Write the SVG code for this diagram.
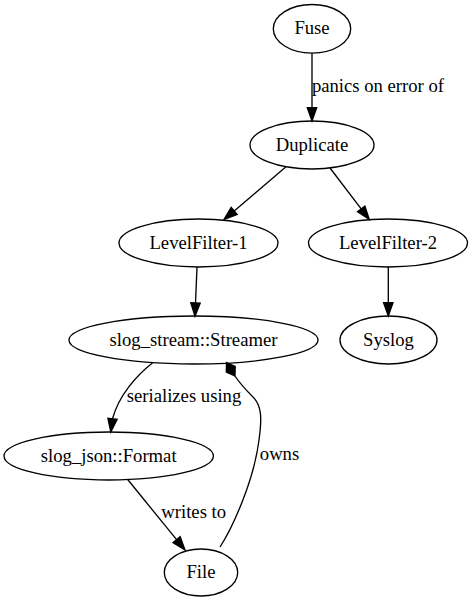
<svg xmlns="http://www.w3.org/2000/svg" width="473" height="601" viewBox="0 0 473 601">
<style>
.node ellipse{fill:none;stroke:#000;stroke-width:1.33}
text{font-family:"Liberation Serif","Times New Roman",serif;font-size:18.67px;fill:#000;text-anchor:middle}
.edge path{fill:none;stroke:#000;stroke-width:1.33}
.edge polygon{fill:#000;stroke:#000;stroke-width:1.33}
</style>
<rect x="0" y="0" width="473" height="601" fill="#fff"/>
<g id="edges" class="edge">
  <g id="e_fuse_dup">
    <path d="M312,53.3 L312,107.7"/>
    <polygon points="307.3,107.7 312,121 316.7,107.7"/>
    <text x="378" y="91.7">panics on error of</text>
  </g>
  <g id="e_dup_lf1">
    <path d="M286,166.8 L234.2,210.9"/>
    <polygon points="231.2,207.3 224,219.5 237.2,214.5"/>
  </g>
  <g id="e_dup_lf2">
    <path d="M330,168 L361.2,208.9"/>
    <polygon points="364.9,206.1 369.3,219.5 357.5,211.7"/>
  </g>
  <g id="e_lf1_str">
    <path d="M197,267 L195.5,303"/>
    <polygon points="190.8,302.8 195,316.3 200.2,303.2"/>
  </g>
  <g id="e_lf2_sys">
    <path d="M388.3,267 L388.3,302.7"/>
    <polygon points="383.6,302.7 388.3,316 393,302.7"/>
  </g>
  <g id="e_str_fmt">
    <path d="M152.7,362.7 C137,375 119,395 112.5,418.8"/>
    <polygon points="117.1,419.4 110.8,432 107.9,418.2"/>
    <text x="184" y="401.7">serializes using</text>
  </g>
  <g id="e_fmt_file">
    <path d="M127.7,479.5 L176.6,539.7"/>
    <polygon points="180.2,536.7 185,550 173,542.6"/>
    <text x="193.7" y="518.3">writes to</text>
  </g>
  <g id="e_file_str">
    <path d="M220,547 C233,527 254,480 259,440 C262,418 262,405 252,396 C244,388 239,382 235,376"/>
    <polygon points="226.5,362.5 235.2,366.4 235,376 226.3,372.1"/>
    <text x="279.5" y="460">owns</text>
  </g>
</g>
<g id="fuse" class="node"><ellipse cx="312" cy="28.8" rx="38.7" ry="24.3"/><text x="312" y="34.4">Fuse</text></g>
<g id="duplicate" class="node"><ellipse cx="312" cy="145" rx="62" ry="24"/><text x="312" y="150.6">Duplicate</text></g>
<g id="levelfilter1" class="node"><ellipse cx="198.5" cy="243" rx="79.5" ry="24"/><text x="198.5" y="248.6">LevelFilter-1</text></g>
<g id="levelfilter2" class="node"><ellipse cx="388" cy="243" rx="79.5" ry="24"/><text x="388" y="248.6">LevelFilter-2</text></g>
<g id="streamer" class="node"><ellipse cx="193.5" cy="340" rx="124.5" ry="24"/><text x="193.5" y="345.6">slog_stream::Streamer</text></g>
<g id="syslog" class="node"><ellipse cx="388.5" cy="340" rx="48.5" ry="24"/><text x="388.5" y="345.6">Syslog</text></g>
<g id="format" class="node"><ellipse cx="108.7" cy="456" rx="104.7" ry="24"/><text x="108.7" y="461.6">slog_json::Format</text></g>
<g id="file" class="node"><ellipse cx="201" cy="572.5" rx="36.7" ry="23.5"/><text x="201" y="578.1">File</text></g>
</svg>
